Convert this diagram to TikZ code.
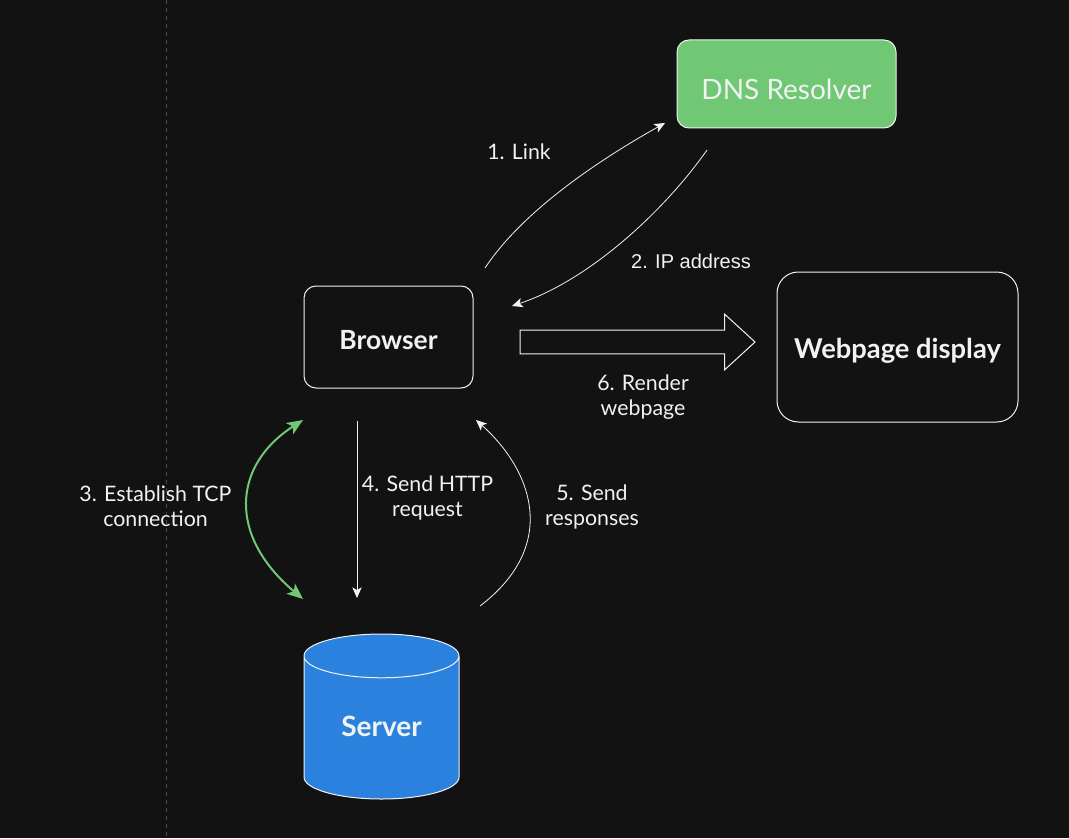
\documentclass[tikz,border=0pt]{standalone}
\usepackage{fontspec}
\setmainfont{Lato}
\newfontfamily\arialfont{Liberation Sans}
\usetikzlibrary{shapes.geometric, shapes.arrows, arrows.meta, positioning}
\definecolor{canvas}{HTML}{121212}
\definecolor{inkwhite}{HTML}{F2F2F2}
\definecolor{resolver}{HTML}{70C774}
\definecolor{dbblue}{HTML}{2B82DE}
\definecolor{guide}{HTML}{4A4A4A}
\tikzset{
    box/.style={
        rectangle, rounded corners=9pt, draw=inkwhite, line width=0.75pt, outer sep=0pt,
        text=inkwhite, font=\fontsize{19.8}{24}\selectfont\bfseries
    },
    dnsbox/.style={
        box, fill=resolver, minimum width=164.25pt, minimum height=66pt,
        text height=27.5pt, text depth=3.5pt, font=\fontsize{21}{25}\selectfont
    },
    pagebox/.style={
        box, rounded corners=16pt, minimum width=180.75pt, minimum height=112.5pt,
        text height=20.8pt, text depth=4pt, font=\fontsize{20.5}{25}\selectfont\bfseries
    },
    browserbox/.style={
        box, minimum width=126.75pt, minimum height=76.5pt,
        text height=22.5pt, text depth=3.6pt
    },
    serverdb/.style={
        cylinder, shape border rotate=90, aspect=0.49, draw=inkwhite, line width=0.75pt,
        cylinder uses custom fill, cylinder body fill=dbblue, cylinder end fill=dbblue,
        minimum width=116.25pt, minimum height=123.75pt, outer sep=0pt,
        text height=15pt, text depth=8pt,
        text=inkwhite, font=\fontsize{21}{25}\selectfont\bfseries
    },
    renderarrow/.style={
        single arrow, draw=inkwhite, line width=0.75pt, outer sep=0pt,
        minimum height=176.25pt, inner ysep=8.6pt, inner xsep=0pt,
        single arrow head extend=12pt, single arrow tip angle=85,
        single arrow head indent=0pt
    },
    arrow/.style={
        -{Stealth[length=8pt, width=7pt, inset=2pt]}, draw=inkwhite, line width=0.6pt
    },
    greenarrow/.style={
        {Stealth[length=12pt, width=10pt, inset=3pt]}-{Stealth[length=12pt, width=10pt, inset=3pt]},
        draw=resolver, line width=1.5pt
    },
    steplabel/.style={
        align=center, text=inkwhite, font=\fontsize{16}{18.75}\selectfont
    },
    iplabelstyle/.style={
        align=center, text=inkwhite, font=\arialfont\fontsize{15}{18.75}\selectfont
    }
}
\begin{document}
\begin{tikzpicture}[x=0.75pt, y=-0.75pt]

    \fill[canvas, use as bounding box] (0,0) rectangle (1069,838);
    \coordinate (guidetop) at (166,0);
    \coordinate (guidebottom) at (166,838);
    \draw[guide, dashed, line width=0.75pt] (guidetop) -- (guidebottom);

    \node[browserbox]                                           (browser) at (388.5,337) {Browser};
    \node[dnsbox, above=118.5pt of browser, xshift=298.5pt]     (dns)     {DNS Resolver};
    \node[pagebox, right=228pt of browser, yshift=-7.5pt]       (page)    {Webpage display};
    \node[serverdb, below=184.5pt of browser, xshift=-5.25pt]   (server)  {Server};
    \node[renderarrow, right=35.25pt of browser, yshift=-3.75pt] (render) {};

    \coordinate (linkfrom) at (485,268);
    \coordinate (linkto)   at (665,123);
    \coordinate (ipfrom)   at (707,150);
    \coordinate (ipto)     at (512,306);
    \coordinate (tcptop)   at (303,420);
    \coordinate (tcpdown)  at (303,599);
    \coordinate (httpfrom) at (357,421);
    \coordinate (httpto)   at (357,598);
    \coordinate (respfrom) at (480,606);
    \coordinate (respto)   at (476,420);

    \draw[arrow] (linkfrom) .. controls (520,215) and (590,165) .. (linkto);
    \draw[arrow] (ipfrom) .. controls (665,210) and (590,280) .. (ipto);
    \draw[greenarrow] (tcptop) .. controls (233,465) and (227,535) .. (tcpdown);
    \draw[arrow] (httpfrom) -- (httpto);
    \draw[arrow] (respfrom) .. controls (560,545) and (532,470) .. (respto);

    \node[steplabel] (linklabel) at (519,152) {1. Link};
    \node[iplabelstyle] (iplabel) at (691,261) {2. IP address};
    \node[steplabel] (tcplabel)  at (155.5,506) {3. Establish TCP\\connection};
    \node[steplabel] (httplabel) at (427.5,498) {4. Send HTTP\\request};
    \node[steplabel] (resplabel) at (592,507) {5. Send\\responses};
    \node[steplabel] (renderlabel) at (643,397) {6. Render\\webpage};

\end{tikzpicture}
\end{document}
